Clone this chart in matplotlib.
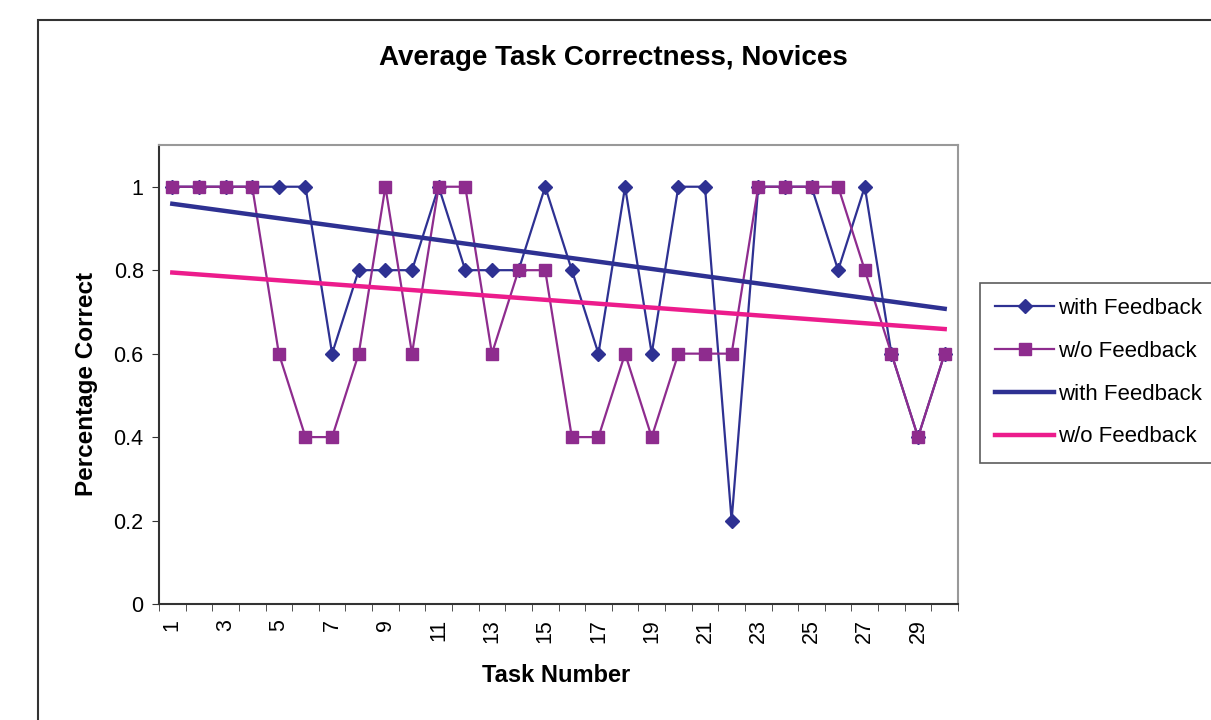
import numpy as np
import matplotlib
matplotlib.use("Agg")
import matplotlib.pyplot as plt
from matplotlib.patches import Rectangle

plt.rcParams['font.family'] = ['Liberation Sans', 'DejaVu Sans']

tasks = list(range(1, 31))
with_feedback = [1, 1, 1, 1, 1, 1, 0.6, 0.8, 0.8, 0.8, 1, 0.8, 0.8, 0.8, 1,
                 0.8, 0.6, 1, 0.6, 1, 1, 0.2, 1, 1, 1, 0.8, 1, 0.6, 0.4, 0.6]
without_feedback = [1, 1, 1, 1, 0.6, 0.4, 0.4, 0.6, 1, 0.6, 1, 1, 0.6, 0.8, 0.8,
                    0.4, 0.4, 0.6, 0.4, 0.6, 0.6, 0.6, 1, 1, 1, 1, 0.8, 0.6, 0.4, 0.6]
yticks = [0, 0.2, 0.4, 0.6, 0.8, 1]
ytick_labels = ["0", "0.2", "0.4", "0.6", "0.8", "1"]
xtick_labels = [str(t) for t in range(1, 30, 2)]

fig = plt.figure(figsize=(12.11, 7.2), dpi=100)
W, H = 1211, 720
ax = fig.add_axes([159 / W, 1 - 604 / H, (958 - 159) / W, (604 - 145) / H])

x = np.array(tasks)
ax.plot(x, with_feedback, color='#2E3192', lw=1.6, marker='D', markersize=7,
        label='with Feedback', zorder=3)
ax.plot(x, without_feedback, color='#8E2C8E', lw=1.6, marker='s', markersize=8.5,
        label='w/o Feedback', zorder=4)

c1 = np.polyfit(x, with_feedback, 1)
c2 = np.polyfit(x, without_feedback, 1)
ax.plot(x, np.polyval(c1, x), color='#2E3192', lw=3.2, label='with Feedback', zorder=5)
ax.plot(x, np.polyval(c2, x), color='#EC1C8C', lw=3.2, label='w/o Feedback', zorder=5)

ax.set_xlim(0.5, 30.5)
ax.set_ylim(0, 1.1)
ax.set_yticks(yticks)
ax.set_yticklabels(ytick_labels, fontsize=15.5)
ax.set_xticks(list(range(1, 30, 2)))
ax.set_xticklabels(xtick_labels, fontsize=15.5, rotation=90)
ax.set_xticks(np.arange(0.5, 31, 1), minor=True)
ax.tick_params(axis='x', which='major', length=0, pad=11)
ax.tick_params(axis='x', which='minor', length=5, direction='out', color='#333333')
ax.tick_params(axis='y', length=5, direction='out', color='#333333', pad=6)

for s in ['top', 'right']:
    ax.spines[s].set_color('#999999')
    ax.spines[s].set_linewidth(1.5)
for s in ['left', 'bottom']:
    ax.spines[s].set_color('#333333')
    ax.spines[s].set_linewidth(1.5)

fig.text(556 / W, 1 - 676 / H, 'Task Number', ha='center', va='center',
         fontsize=17, fontweight='bold')
fig.text(86 / W, 1 - 384 / H, 'Percentage Correct', ha='center', va='center',
         rotation=90, fontsize=17.5, fontweight='bold')
fig.text(613 / W, 1 - 58 / H, 'Average Task Correctness, Novices',
         ha='center', va='center', fontsize=20, fontweight='bold')

leg = fig.legend(loc='upper left', bbox_to_anchor=(980 / W, 1 - 283 / H),
                 fontsize=16, frameon=True, fancybox=False, edgecolor='#333333',
                 handlelength=2.65, labelspacing=0.98, borderpad=0.68,
                 handletextpad=0.2, borderaxespad=0)
leg.get_frame().set_linewidth(1.2)

fig.patches.append(Rectangle((38 / W, -0.1), 1.2, 1 - 20 / H + 0.1,
                             transform=fig.transFigure, fill=False,
                             edgecolor='#333333', lw=1.5))

fig.savefig('out.png', dpi=100)
